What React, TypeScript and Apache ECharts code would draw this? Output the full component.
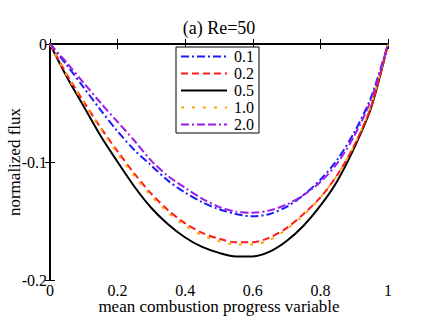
import React, { useEffect, useRef } from "react";
import * as echarts from "echarts";

const xs = [0, 0.05, 0.1, 0.15, 0.2, 0.25, 0.3, 0.35, 0.4, 0.45, 0.5, 0.55, 0.6, 0.65, 0.7, 0.75, 0.8, 0.85, 0.9, 0.95, 1];

const seriesNames = ["0.1", "0.2", "0.5", "1.0", "2.0"];

const flux01 = [0, -0.018, -0.037, -0.056, -0.074, -0.09, -0.103, -0.116, -0.126, -0.134, -0.14, -0.144, -0.146, -0.144, -0.138, -0.128, -0.115, -0.098, -0.075, -0.045, 0];
const flux02 = [0, -0.026, -0.049, -0.071, -0.091, -0.11, -0.127, -0.141, -0.152, -0.16, -0.165, -0.168, -0.168, -0.164, -0.156, -0.144, -0.13, -0.111, -0.086, -0.053, 0];
const flux05 = [0, -0.028, -0.053, -0.078, -0.1, -0.121, -0.139, -0.153, -0.164, -0.172, -0.177, -0.18, -0.18, -0.176, -0.167, -0.154, -0.137, -0.116, -0.088, -0.054, 0];
const flux10 = [0, -0.027, -0.05, -0.072, -0.093, -0.112, -0.129, -0.143, -0.154, -0.162, -0.167, -0.17, -0.17, -0.166, -0.157, -0.145, -0.13, -0.111, -0.086, -0.052, 0];
const flux20 = [0, -0.016, -0.033, -0.05, -0.066, -0.082, -0.099, -0.112, -0.122, -0.131, -0.138, -0.142, -0.143, -0.141, -0.136, -0.128, -0.117, -0.101, -0.078, -0.047, 0];

const xTicks = { min: 0, max: 1, interval: 0.2 };
const yTicks = { min: -0.2, max: 0, interval: 0.1 };

const FONT = "Liberation Serif, Times New Roman, serif";

const styles = [
  { color: "#1a1aff", type: [8, 3, 2, 3] },
  { color: "#ff1a1a", type: [7, 4] },
  { color: "#000000", type: "solid" },
  { color: "#ffa500", type: [3, 8] },
  { color: "#9b1fe8", type: [8, 3, 2, 3, 8, 3] },
];

export default function App() {
  const ref = useRef<HTMLDivElement>(null);
  useEffect(() => {
    if (!ref.current) return;
    const chart = echarts.init(ref.current, null, { renderer: "svg" });
    const all = [flux01, flux02, flux05, flux10, flux20];
    const axisLine = { show: true, lineStyle: { color: "#000", width: 2 } };
    const axisTick = { show: true, inside: true, length: 5, lineStyle: { color: "#000", width: 1 } };
    chart.setOption({
      animation: false,
      backgroundColor: "#fff",
      title: {
        text: "(a) Re=50",
        left: 219,
        textAlign: "center",
        top: 19,
        padding: 0,
        textStyle: { fontFamily: FONT, fontSize: 18, fontWeight: "normal", color: "#000" },
      },
      legend: {
        orient: "vertical",
        left: 176,
        top: 47,
        padding: [1, 5, 0, 4],
        itemGap: 0,
        itemWidth: 46,
        itemHeight: 17,
        borderColor: "#000",
        borderWidth: 1,
        backgroundColor: "#fff",
        data: seriesNames,
        itemStyle: { opacity: 0 },
        textStyle: { fontFamily: FONT, fontSize: 16, lineHeight: 17, color: "#000", padding: [0, 0, 0, 2] },
      },
      grid: { left: 50, top: 44, right: 48, bottom: 50, containLabel: false, outerBoundsMode: "none" },
      xAxis: [
        {
          type: "value",
          position: "bottom",
          ...xTicks,
          name: "mean combustion progress variable",
          nameLocation: "middle",
          nameGap: 18,
          nameMoveOverlap: false,
          nameTextStyle: { fontFamily: FONT, fontSize: 17, color: "#000" },
          axisLine,
          axisTick,
          splitLine: { show: false },
          axisLabel: { fontFamily: FONT, fontSize: 16, color: "#000", margin: 2 },
        },
        {
          type: "value",
          position: "top",
          ...xTicks,
          axisLine,
          axisTick,
          splitLine: { show: false },
          axisLabel: { show: false },
        },
      ],
      yAxis: [
        {
          type: "value",
          position: "left",
          ...yTicks,
          name: "normalized flux",
          nameLocation: "middle",
          nameGap: 27,
          nameRotate: 90,
          nameMoveOverlap: false,
          nameTextStyle: { fontFamily: FONT, fontSize: 17, color: "#000" },
          axisLine,
          axisTick,
          splitLine: { show: false },
          axisLabel: { fontFamily: FONT, fontSize: 16, color: "#000", margin: 3 },
        },
        {
          type: "value",
          position: "right",
          ...yTicks,
          axisLine,
          axisTick,
          splitLine: { show: false },
          axisLabel: { show: false },
        },
      ],
      series: seriesNames.map((name, i) => ({
        name,
        type: "line",
        xAxisIndex: 0,
        yAxisIndex: 0,
        symbol: "none",
        smooth: 0.3,
        data: xs.map((x, j) => [x, all[i][j]]),
        lineStyle: { color: styles[i].color, width: 2, type: styles[i].type as any },
        itemStyle: { color: styles[i].color },
        z: i === 2 ? 1 : 2,
      })),
    });
    return () => chart.dispose();
  }, []);
  return (
    <div
      ref={ref}
      style={{ position: "absolute", left: 0, top: 0, width: 436, height: 330 }}
    />
  );
}
